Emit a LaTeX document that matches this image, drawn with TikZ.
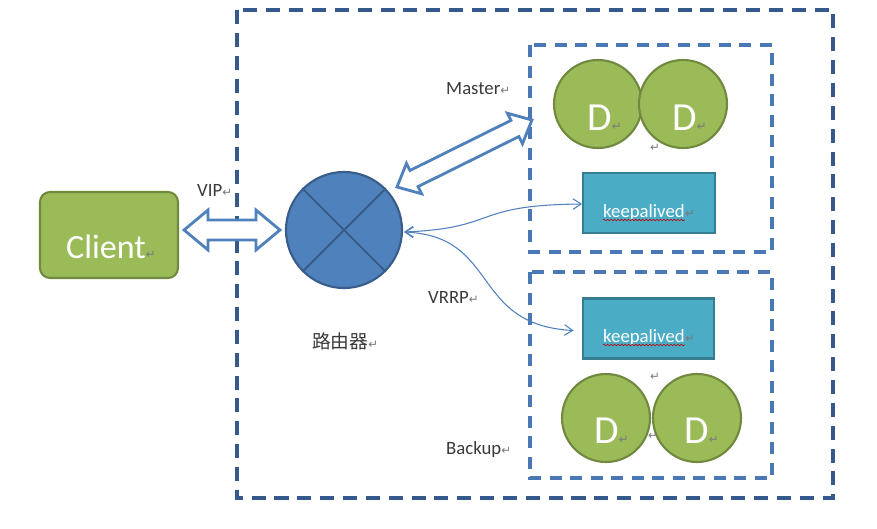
\documentclass[tikz,border=0pt]{standalone}
\usepackage{fontspec}
\setmainfont{Carlito}
\newfontfamily\cjkfont{Noto Sans CJK SC}
\newfontfamily\symfont{DejaVu Sans}
\usetikzlibrary{arrows.meta,calc,decorations.pathmorphing}

\definecolor{grnfill}{HTML}{9BBB59}
\definecolor{grnline}{HTML}{71893F}
\definecolor{bluefill}{HTML}{4F81BD}
\definecolor{blueline}{HTML}{385D8A}
\definecolor{tealfill}{HTML}{4BACC6}
\definecolor{tealline}{HTML}{357D91}
\definecolor{navydash}{HTML}{35598C}
\definecolor{grpdash}{HTML}{4A78B4}
\definecolor{labelgray}{HTML}{3A3A3A}
\definecolor{retgray}{HTML}{7A7A7A}

% paragraph mark
\newcommand{\rt}{{\symfont\fontsize{10pt}{10pt}\selectfont\color{retgray}↵}}

% hollow block arrow with heads at both ends:
% #1,#2 tips, #3 head length, #4 head half width, #5 shaft half width
\newcommand{\blockarrow}[5]{%
  \draw[blockarrow] (#1)
    -- ($(#1)!#3!(#2)!#4!90:(#2)$)
    -- ($(#1)!#3!(#2)!#5!90:(#2)$)
    -- ($(#2)!#3!(#1)!#5!-90:(#1)$)
    -- ($(#2)!#3!(#1)!#4!-90:(#1)$)
    -- (#2)
    -- ($(#2)!#3!(#1)!#4!90:(#1)$)
    -- ($(#2)!#3!(#1)!#5!90:(#1)$)
    -- ($(#1)!#3!(#2)!#5!-90:(#2)$)
    -- ($(#1)!#3!(#2)!#4!-90:(#2)$)
    -- cycle;}

\begin{document}
\begin{tikzpicture}[x=0.03cm,y=-0.03cm,
  outerbox/.style={draw=navydash,line width=2.6pt,dash pattern=on 12pt off 7.5pt},
  grpbox/.style={draw=grpdash,line width=2.6pt,dash pattern=on 10.5pt off 7pt},
  clientbox/.style={draw=grnline,fill=grnfill,line width=1.8pt,rounded corners=0.3cm,
    minimum width=4.14cm,minimum height=2.58cm,inner sep=0pt},
  routernode/.style={circle,draw=blueline,fill=bluefill,line width=1.8pt,
    minimum size=3.48cm,inner sep=0pt},
  dnode/.style={circle,draw=grnline,fill=grnfill,line width=1.8pt,
    minimum size=2.64cm,inner sep=0pt},
  kabox/.style={draw=tealline,fill=tealfill,line width=1.8pt,
    minimum width=3.95cm,minimum height=1.8cm,inner sep=0pt},
  whitetext/.style={text=white,inner sep=0pt},
  lbl/.style={text=labelgray,inner sep=0pt,font=\fontsize{16pt}{16pt}\selectfont},
  retmark/.style={inner sep=0pt,font=\symfont\fontsize{10pt}{10pt}\selectfont,text=retgray},
  blockarrow/.style={draw=bluefill,fill=white,line width=2.4pt,line join=miter},
  vrrp/.style={draw=bluefill,line width=0.9pt,
    {Straight Barb[length=7pt,width=9pt]}-{Straight Barb[length=7pt,width=9pt]}},
  wavy/.style={draw=red!75!black,line width=0.5pt,decorate,
    decoration={snake,amplitude=0.7pt,segment length=3pt}}]

\useasboundingbox (0,0) rectangle (877,528);
\fill[white] (0,0) rectangle (877,528);

% enclosures
\draw[outerbox] (237,10) rectangle (833,498);
\draw[grpbox] (530,45) rectangle (772,252);
\draw[grpbox] (530,272) rectangle (772,478);

% client
\node[clientbox] (client) at (109,235) {};
\node[whitetext,anchor=base west,font=\fontsize{29pt}{29pt}\selectfont] (clienttxt) at (66,258) {Client\rt};

% router
\node[routernode] (router) at (344,230) {};
\draw[blueline,line width=1.8pt] (router.45) -- (router.225);
\draw[blueline,line width=1.8pt] (router.135) -- (router.315);
\node[anchor=west,inner sep=0pt,text=labelgray,font=\cjkfont\fontsize{16pt}{16pt}\selectfont] (routerlbl) at (312,341) {路由器\rt};

% master group
\node[dnode] (d1) at (598,104) {};
\node[dnode] (d2) at (683,104) {};
\node[whitetext,anchor=base west,font=\fontsize{34pt}{34pt}\selectfont] (d1t) at (587,130) {D\rt};
\node[whitetext,anchor=base west,font=\fontsize{34pt}{34pt}\selectfont] (d2t) at (672,130) {D\rt};
\node[retmark] (r1) at (655,148) {↵};
\node[kabox] (katop) at (649,203) {};
\node[whitetext,anchor=base west,font=\fontsize{16pt}{16pt}\selectfont] (katopt) at (603,217) {keepalived};
\node[retmark,anchor=base west] (katopr) at (katopt.base east) {↵};
\draw[wavy] ($(katopt.base west)+(0,3)$) -- ($(katopt.base east)+(0,3)$);

% backup group
\node[kabox] (kabot) at (648.5,328.5) {};
\node[whitetext,anchor=base west,font=\fontsize{16pt}{16pt}\selectfont] (kabott) at (603,342) {keepalived};
\node[retmark,anchor=base west] (kabotr) at (kabott.base east) {↵};
\draw[wavy] ($(kabott.base west)+(0,3)$) -- ($(kabott.base east)+(0,3)$);
\node[retmark] (r2) at (655,377) {↵};
\node[dnode] (d3) at (606,418) {};
\node[dnode] (d4) at (697,418) {};
\node[whitetext,anchor=base west,font=\fontsize{34pt}{34pt}\selectfont] (d3t) at (594,443) {D\rt};
\node[whitetext,anchor=base west,font=\fontsize{34pt}{34pt}\selectfont] (d4t) at (684,443) {D\rt};
\node[retmark] (r3) at (653,436) {↵};

% labels
\node[lbl,anchor=base west] (viplbl) at (197,196) {VIP\rt};
\node[lbl,anchor=base west] (masterlbl) at (446,94) {Master\rt};
\node[lbl,anchor=base west] (vrrplbl) at (428,303) {VRRP\rt};
\node[lbl,anchor=base west] (backuplbl) at (446,454) {Backup\rt};

% block arrows
\coordinate (vipL) at ($(client.east)+(5,-5)$);
\coordinate (vipR) at ($(router.west)+(-5,0)$);
\blockarrow{vipL}{vipR}{0.72cm}{0.6cm}{0.3cm}
\coordinate (mA) at ($(router.center)+(53,-43)$);
\coordinate (mB) at ($(d1.west)+(-21,16)$);
\blockarrow{mA}{mB}{0.57cm}{0.51cm}{0.27cm}

% heartbeat links
\coordinate (rtE) at ($(router.east)+(1,2)$);
\draw[vrrp] (rtE) .. controls (500,228) and (470,205) .. ($(katop.west)+(0,1)$);
\draw[vrrp] (rtE) .. controls (500,236) and (470,325) .. ($(kabot.west)+(-8,2)$);
\end{tikzpicture}
\end{document}
